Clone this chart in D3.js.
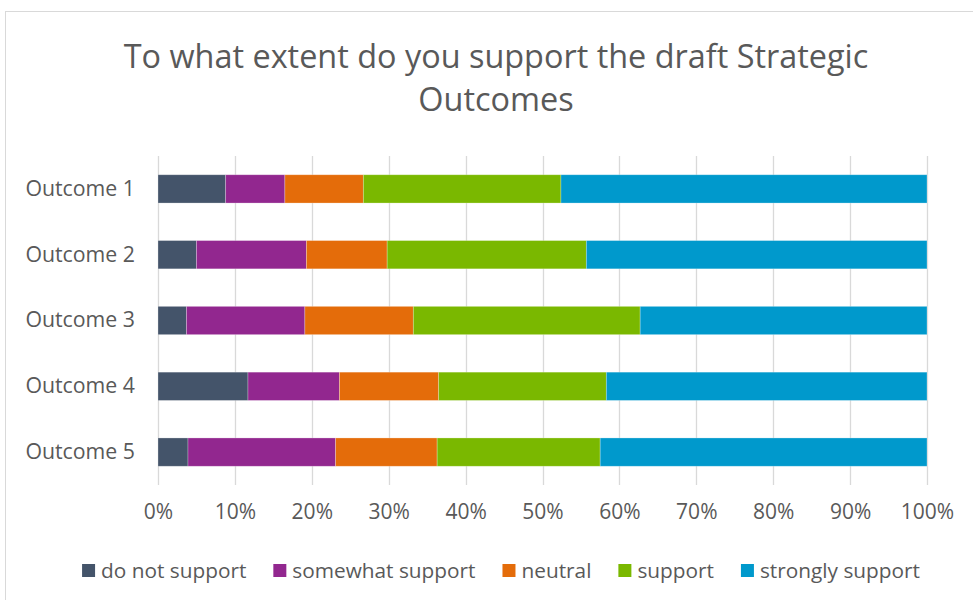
<!DOCTYPE html>
<html>
<head>
<meta charset="utf-8">
<script src="https://cdn.jsdelivr.net/npm/d3@7"></script>
<style>
  html, body { margin: 0; padding: 0; background: #fff; }
  svg { display: block; font-family: "Open Sans", sans-serif; }
</style>
</head>
<body>
<svg id="chart" width="973" height="600"></svg>
<script>
const titleLines = ["To what extent do you support the draft Strategic", "Outcomes"];
const categories = ["Outcome 1", "Outcome 2", "Outcome 3", "Outcome 4", "Outcome 5"];
const seriesNames = ["do not support", "somewhat support", "neutral", "support", "strongly support"];
const doNotSupport = [8.8, 5.0, 3.7, 11.7, 3.9];
const somewhatSupport = [7.7, 14.3, 15.4, 11.9, 19.2];
const neutral = [10.2, 10.5, 14.1, 12.9, 13.2];
const support = [25.7, 25.9, 29.5, 21.8, 21.2];
const stronglySupport = [47.6, 44.3, 37.3, 41.7, 42.5];
const tickValues = [0, 10, 20, 30, 40, 50, 60, 70, 80, 90, 100];
const colors = ["#44546A", "#92278F", "#E46C0A", "#7AB800", "#0099CC"];

const seriesValues = [doNotSupport, somewhatSupport, neutral, support, stronglySupport];
const rows = categories.map((c, i) => {
  const r = { category: c };
  seriesNames.forEach((s, j) => r[s] = seriesValues[j][i]);
  return r;
});

const svg = d3.select("#chart");
const textColor = "#595959";

// chart border
svg.append("rect").attr("x", 5.5).attr("y", 11.5).attr("width", 1000).attr("height", 700)
  .attr("fill", "#fff").attr("stroke", "#d9d9d9").attr("stroke-width", 1);

// title
const title = svg.append("text").attr("text-anchor", "middle").attr("fill", textColor)
  .attr("font-size", 30);
titleLines.forEach((t, i) => {
  title.append("tspan").attr("x", 496).attr("y", 68 + i * 43).text(t);
});
const firstW = title.select("tspan").node().getComputedTextLength();
const titleSize = 30 * 745 / firstW;
title.attr("font-size", titleSize);

const x = d3.scaleLinear().domain([0, 100]).range([158, 927]);
const y = d3.scaleBand().domain(categories).range([156, 485]).paddingInner(0.57).paddingOuter(0.285);

// gridlines
svg.append("g").selectAll("line").data(tickValues).join("line")
  .attr("x1", d => Math.round(x(d)) + 0.5).attr("x2", d => Math.round(x(d)) + 0.5)
  .attr("y1", 156).attr("y2", 485)
  .attr("stroke", "#d9d9d9").attr("stroke-width", 1.3);

// stacked bars
const stack = d3.stack().keys(seriesNames);
const stacked = stack(rows);
svg.append("g").selectAll("g").data(stacked).join("g")
  .attr("fill", (d, i) => colors[i])
  .selectAll("rect").data(d => d.map(v => ({ v, cat: v.data.category }))).join("rect")
  .attr("x", d => x(d.v[0]))
  .attr("width", d => x(d.v[1]) - x(d.v[0]))
  .attr("y", d => y(d.cat))
  .attr("height", y.bandwidth())
  .attr("stroke", "#ffffff").attr("stroke-opacity", 0.35).attr("stroke-width", 0.75);

// x axis labels
const xAxis = d3.axisBottom(x).tickValues(tickValues).tickFormat(d => d + "%").tickSize(0).tickPadding(0);
const xg = svg.append("g").attr("transform", "translate(0,504)").call(xAxis);
xg.select(".domain").remove();
xg.selectAll("text").attr("font-size", 21).attr("fill", textColor)
  .attr("font-family", "'Open Sans', sans-serif");

// y axis labels
const yAxis = d3.axisLeft(y).tickSize(0).tickPadding(0);
const yg = svg.append("g").attr("transform", "translate(135,0)").call(yAxis);
yg.select(".domain").remove();
yg.selectAll("text").attr("font-size", 21.3).attr("fill", textColor)
  .attr("font-family", "'Open Sans', sans-serif");

// legend
const legend = svg.append("g");
const items = legend.selectAll("g").data(seriesNames).join("g");
items.append("rect").attr("width", 13).attr("height", 13).attr("y", -14)
  .attr("fill", (d, i) => colors[i]);
items.append("text").attr("x", 19).attr("y", 0).attr("font-size", 20.8).attr("fill", textColor)
  .text(d => d);
let cx = 0;
const offsets = [];
items.each(function () {
  offsets.push(cx);
  const w = d3.select(this).select("text").node().getComputedTextLength();
  cx += 19 + w + 27;
});
const total = cx - 27;
items.attr("transform", (d, i) => `translate(${offsets[i]},0)`);
legend.attr("transform", `translate(${501 - total / 2},578)`);
</script>
</body>
</html>
